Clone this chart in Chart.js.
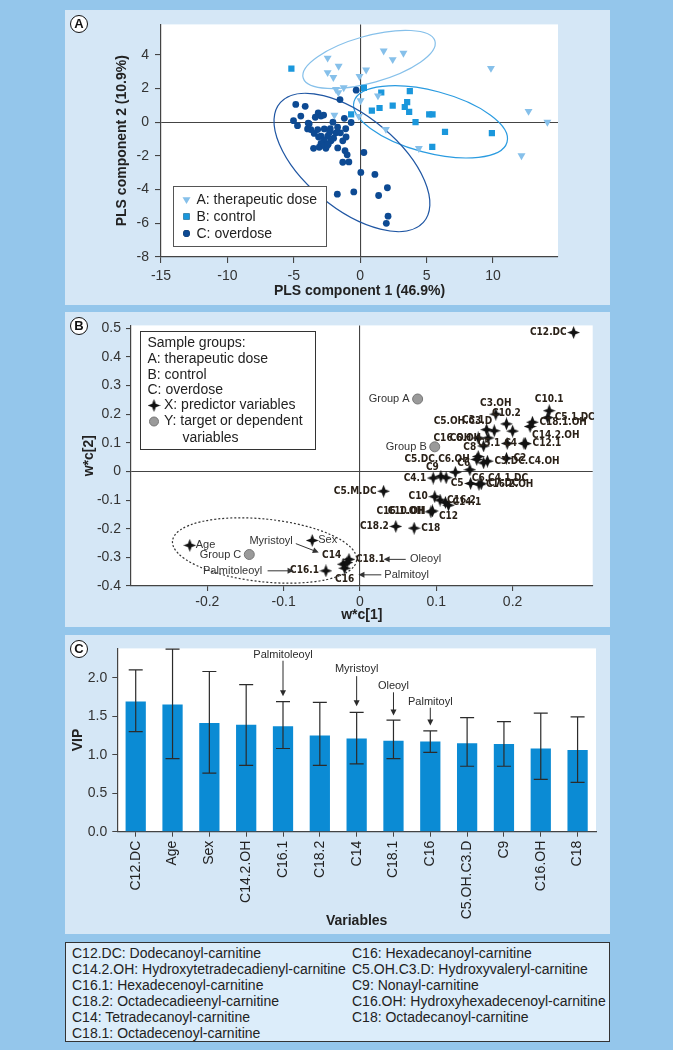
<!DOCTYPE html>
<html>
<head>
<meta charset="utf-8">
<title>PLS scores, loadings and VIP</title>
<script src="https://cdn.jsdelivr.net/npm/chart.js@4.4.1/dist/chart.umd.min.js"></script>
<style>
  html, body { margin: 0; padding: 0; }
  body { width: 673px; height: 1050px; background: #94c6eb; position: relative; overflow: hidden;
         font-family: 'Liberation Sans', Arial, Helvetica, sans-serif; }
  .panel { position: absolute; left: 65px; width: 545px; background: #d5e7f6; }
  .panel canvas { position: absolute; left: 0; top: 0; }
  .tag { position: absolute; left: 5px; top: 5px; width: 16px; height: 16px; border: 1.6px solid #111;
         border-radius: 50%; background: #fff; font: bold 13px 'Liberation Sans', Arial, sans-serif;
         text-align: center; line-height: 16px; color: #111; z-index: 2; }
  .key { position: absolute; left: 65px; top: 942px; width: 545px; height: 100px; box-sizing: border-box;
         border: 1.5px solid #333; background: #dcedfa; font-size: 14px; color: #222; }
  .key .col { position: absolute; top: 2px; line-height: 16px; white-space: nowrap; }
</style>
</head>
<body>
<div class="panel" style="top:10px;height:295px"><div class="tag">A</div><canvas id="scoresChart" width="545" height="295"></canvas></div>
<div class="panel" style="top:312px;height:315px"><div class="tag">B</div><canvas id="loadingsChart" width="545" height="315"></canvas></div>
<div class="panel" style="top:635px;height:299px"><div class="tag">C</div><canvas id="vipChart" width="545" height="299"></canvas></div>
<div class="key">
  <div class="col" style="left:6px">
    C12.DC: Dodecanoyl-carnitine<br>
    C14.2.OH: Hydroxytetradecadienyl-carnitine<br>
    C16.1: Hexadecenoyl-carnitine<br>
    C18.2: Octadecadieenyl-carnitine<br>
    C14: Tetradecanoyl-carnitine<br>
    C18.1: Octadecenoyl-carnitine
  </div>
  <div class="col" style="left:286px">
    C16: Hexadecanoyl-carnitine<br>
    C5.OH.C3.D: Hydroxyvaleryl-carnitine<br>
    C9: Nonayl-carnitine<br>
    C16.OH: Hydroxyhexadecenoyl-carnitine<br>
    C18: Octadecanoyl-carnitine
  </div>
</div>
<script>
// ---------- Panel A: PLS scores ----------
const groupNames = ['A: therapeutic dose', 'B: control', 'C: overdose'];
const doseX = [-2.45, -1.62, -2.45, -2.02, -0.05, 0.45, 1.77, 2.45, 3.26, 9.85, -1.82, -1.24, -1.64, 0.03, 1.34, -1.94, 1.94, 12.68, 14.1, 4.42, 12.15, -0.1];
const doseY = [3.81, 3.33, 2.95, 2.66, 2.72, 3.10, 4.23, 3.72, 4.10, 3.20, 1.95, 2.05, 1.76, 1.28, 1.57, 0.42, -0.42, 0.65, 0.0, -1.55, -1.98, 0.35];
const controlX = [-5.18, 0.28, 1.59, 3.74, 0.88, 1.46, 2.45, 3.54, 3.36, 3.69, -0.68, 4.17, 5.20, 5.45, 6.39, 9.92, 5.43];
const controlY = [3.18, 2.03, 1.76, 1.84, 0.69, 0.84, 0.98, 1.19, 0.90, 0.61, 0.46, 0.0, 0.46, 0.46, -0.57, -0.65, -1.46];
const overdoseX = [-4.85, -4.14, -1.52, -0.30, -4.47, -3.16, -2.95, -3.38, -2.75, -5.02, -4.72, -3.91, -2.05, -1.19, -0.68,
  -3.71, -3.20, -2.70, -2.25, -1.82, -1.49, -1.09, -3.46, -2.95, -2.45, -2.70, -2.20, -1.31, -2.95, -2.40, -3.51, -3.08,
  -1.69, -1.14, 0.28, -2.58, -0.98, -1.31, -0.85, 0.05, 1.11, 2.05, -1.72, -0.48, 1.39, 2.10, 1.97, -3.96, -2.70, -2.45,
  -3.84, -1.06, -3.13, -2.3, -2.0, -1.7];
const overdoseY = [1.05, 0.94, 1.34, 1.90, 0.36, 0.55, 0.36, 0.29, 0.42, 0.09, -0.21, -0.06, 0.0, 0.23, -0.02,
  -0.44, -0.44, -0.40, -0.39, -0.63, -0.63, -0.39, -0.67, -0.83, -0.83, -1.08, -1.11, -1.11, -1.26, -1.30, -1.55, -1.49,
  -1.53, -1.69, -1.80, -1.55, -1.94, -2.38, -2.36, -2.98, -3.10, -3.89, -4.27, -4.14, -4.35, -5.58, -6.00, -0.40, -1.40, -1.36,
  -0.10, -0.88, -0.88, -0.60, -0.95, -0.30];
// group confidence ellipses: centre and two half-axis vectors, in data units
const ellipseCx = [0.67, 5.30, -0.62];
const ellipseCy = [3.72, 0.02, -2.39];
const ellipseU = [[4.96, 1.10], [5.76, -1.21], [5.38, -3.56]];
const ellipseV = [[0.51, -1.33], [-0.64, -1.77], [-2.35, -2.04]];

// ---------- Panel B: loadings w*c ----------
const predictorNames = ['C12.DC', 'C10.1', 'C3.OH', 'C5.1.DC', 'C18.1.OH', 'C14.2.OH', 'C10.2', 'C3.1', 'C5.OH.C3.D', 'C14.OH',
  'C16.OH', 'C6.OH', 'C12.OH', 'C5.1', 'C4', 'C12.1', 'C8', 'C5.DC.C6.OH', 'C3.DC.C4.OH', 'C2', 'C14.1.OH',
  'C4.1', 'C9', 'C7', 'C6', 'C6.C4.1.DC', 'C5', 'C16.2.OH', 'C7.DC', 'C5.M.DC', 'C10', 'C16.2', 'C14.1', 'C12',
  'C16.1.OH', 'C10.OH', 'C18.2', 'C18', 'C18.1', 'C14', 'C16.1', 'C16', 'C18.OH'];
const predictorX = [0.280, 0.248, 0.178, 0.246, 0.226, 0.223, 0.192, 0.166, 0.176, 0.200,
  0.155, 0.168, 0.162, 0.193, 0.215, 0.217, 0.155, 0.153, 0.167, 0.192, 0.162,
  0.096, 0.106, 0.113, 0.125, 0.144, 0.145, 0.156, 0.159, 0.031, 0.098, 0.105, 0.112, 0.116,
  0.093, 0.095, 0.047, 0.071, -0.0144, -0.022, -0.0446, -0.020, -0.017];
const predictorY = [0.485, 0.212, 0.200, 0.188, 0.172, 0.157, 0.166, 0.146, 0.142, 0.141,
  0.117, 0.117, 0.089, 0.098, 0.098, 0.097, 0.052, 0.042, 0.036, 0.046, 0.030,
  -0.023, -0.017, -0.022, -0.003, 0.006, -0.042, -0.045, -0.043, -0.069, -0.088, -0.100, -0.108, -0.118,
  -0.141, -0.138, -0.192, -0.198, -0.307, -0.324, -0.347, -0.338, -0.318];
// where each label sits next to its star
const predictorLabelSide = ['l', 't', 't', 'r', 'r', 'br', 't', 'tl', 'tl', 'none',
  'l', 'l', 'none', 'l', 'l', 'r', 'tl', 'l', 'r', 'r', 'none',
  'l', 'tl', 'none', 'tr', 'br', 'l', 'r', 'r', 'l', 'l', 'r', 'r', 'b',
  'l', 'l', 'l', 'r', 'r', 'tl', 'l', 'b', 'none'];
const clinicalNames = ['Age', 'Sex'];
const clinicalX = [-0.223, -0.0625];
const clinicalY = [-0.258, -0.241];
const targetNames = ['Group A', 'Group B', 'Group C'];
const targetX = [0.0756, 0.098, -0.145];
const targetY = [0.253, 0.086, -0.290];
const fattyNotes = ['Oleoyl', 'Palmitoyl', 'Myristoyl', 'Palmitoleoyl'];
const fattyNoteX = [0.0655, 0.032, -0.088, -0.128];
const fattyNoteY = [-0.307, -0.361, -0.244, -0.347];
const fattyArrowFrom = [[0.060, -0.307], [0.028, -0.361], [-0.084, -0.252], [-0.121, -0.347]];
const fattyArrowTo = [[0.031, -0.307], [-0.002, -0.361], [-0.054, -0.283], [-0.087, -0.347]];

// ---------- Panel C: variable importance ----------
const vipNames = ['C12.DC', 'Age', 'Sex', 'C14.2.OH', 'C16.1', 'C18.2', 'C14', 'C18.1', 'C16', 'C5.OH.C3.D', 'C9', 'C16.OH', 'C18'];
const vipValues = [1.69, 1.65, 1.41, 1.39, 1.37, 1.25, 1.21, 1.18, 1.17, 1.15, 1.14, 1.08, 1.06];
const vipLow = [1.30, 0.95, 0.76, 0.86, 1.08, 0.86, 0.88, 0.95, 1.03, 0.85, 0.85, 0.68, 0.64];
const vipHigh = [2.10, 2.37, 2.08, 1.91, 1.69, 1.68, 1.55, 1.45, 1.31, 1.48, 1.43, 1.54, 1.49];
const vipNotes = ['Palmitoleoyl', 'Myristoyl', 'Oleoyl', 'Palmitoyl'];
const vipNoteBars = ['C16.1', 'C14', 'C18.1', 'C16'];
const vipNoteY = [2.29, 2.11, 1.89, 1.69];
const vipArrowFrom = [2.22, 2.02, 1.81, 1.61];
const vipArrowTo = [1.76, 1.63, 1.51, 1.38];

Chart.defaults.font.family = "'Liberation Sans', Arial, Helvetica, sans-serif";
Chart.defaults.font.size = 14;
Chart.defaults.color = '#333';
Chart.defaults.animation = false;
Chart.defaults.events = [];
Chart.defaults.plugins.legend.display = false;
Chart.defaults.plugins.tooltip.enabled = false;

const LABEL_FONT = "bold 10px 'Liberation Sans Narrow', 'DejaVu Sans Condensed', sans-serif";
const NOTE_FONT = "11px 'Liberation Sans', Arial, sans-serif";

function toPoints(xs, ys) {
  return xs.map((x, i) => ({ x, y: ys[i] }));
}

// four-pointed star used for the predictor variables
function makeStar(size, color) {
  const c = document.createElement('canvas');
  c.width = c.height = size;
  const g = c.getContext('2d');
  const h = size / 2, r = size * 0.14;
  g.fillStyle = color;
  g.beginPath();
  g.moveTo(h, 0); g.lineTo(h + r, h - r); g.lineTo(size, h); g.lineTo(h + r, h + r);
  g.lineTo(h, size); g.lineTo(h - r, h + r); g.lineTo(0, h); g.lineTo(h - r, h - r);
  g.closePath();
  g.fill();
  return c;
}
const starIcon = makeStar(13, '#111');

function drawArrow(ctx, x1, y1, x2, y2) {
  const a = Math.atan2(y2 - y1, x2 - x1), head = 6;
  ctx.beginPath();
  ctx.moveTo(x1, y1);
  ctx.lineTo(x2 - Math.cos(a) * head * 0.8, y2 - Math.sin(a) * head * 0.8);
  ctx.stroke();
  ctx.beginPath();
  ctx.moveTo(x2, y2);
  ctx.lineTo(x2 - head * Math.cos(a) + 3 * Math.sin(a), y2 - head * Math.sin(a) - 3 * Math.cos(a));
  ctx.lineTo(x2 - head * Math.cos(a) - 3 * Math.sin(a), y2 - head * Math.sin(a) + 3 * Math.cos(a));
  ctx.closePath();
  ctx.fill();
}

const plotBackground = {
  id: 'plotBackground',
  beforeDraw(chart) {
    const { ctx, chartArea: a } = chart;
    ctx.save();
    ctx.fillStyle = '#fff';
    ctx.fillRect(a.left, a.top, a.right - a.left, a.bottom - a.top);
    ctx.restore();
  }
};

// ellipse given by centre and two conjugate half-axes (data units)
function strokeEllipse(chart, cx, cy, u, v, color, dash) {
  const { ctx, scales: { x, y } } = chart;
  const px = x.getPixelForValue(cx), py = y.getPixelForValue(cy);
  const ux = x.getPixelForValue(cx + u[0]) - px, uy = y.getPixelForValue(cy + u[1]) - py;
  const vx = x.getPixelForValue(cx + v[0]) - px, vy = y.getPixelForValue(cy + v[1]) - py;
  ctx.save();
  ctx.beginPath();
  ctx.save();
  ctx.transform(ux, uy, vx, vy, px, py);
  ctx.arc(0, 0, 1, 0, Math.PI * 2);
  ctx.restore();
  ctx.strokeStyle = color;
  ctx.lineWidth = 1.2;
  ctx.setLineDash(dash || []);
  ctx.stroke();
  ctx.restore();
}

function linearAxis(min, max, step, o) {
  return {
    type: 'linear', min, max,
    border: { display: true, color: '#444', width: 1.2 },
    grid: {
      drawOnChartArea: true,
      color: c => (c.tick && Math.abs(c.tick.value) < 1e-9 ? '#444' : 'rgba(0,0,0,0)'),
      tickColor: '#444', tickLength: o.tickLength, lineWidth: 1.1
    },
    ticks: { stepSize: step, includeBounds: false, padding: o.pad, color: '#333' },
    title: { display: true, text: o.title, color: '#222', font: { size: 14, weight: 'bold' }, padding: o.titlePad },
    afterFit: o.fit
  };
}

// ---------- chart A ----------
const scoresExtras = {
  id: 'scoresExtras',
  beforeDatasetsDraw(chart) {
    const colors = ['#86c0ea', '#2a9be0', '#1f56a3'];
    ellipseCx.forEach((cx, i) => strokeEllipse(chart, cx, ellipseCy[i], ellipseU[i], ellipseV[i], colors[i]));
  },
  afterDatasetsDraw(chart) {
    const ctx = chart.ctx;
    ctx.save();
    ctx.fillStyle = '#fff';
    ctx.strokeStyle = '#555';
    ctx.lineWidth = 1;
    ctx.fillRect(108.5, 176.5, 153, 60);
    ctx.strokeRect(108.5, 176.5, 153, 60);
    ctx.font = "14px 'Liberation Sans', Arial, sans-serif";
    ctx.textBaseline = 'middle';
    chart.data.datasets.forEach((ds, i) => {
      const yy = 189.5 + i * 17;
      Chart.helpers.drawPoint(ctx, {
        pointStyle: ds.pointStyle, rotation: ds.rotation || 0, radius: ds.pointRadius, borderWidth: 0
      }, 121.5, yy);
      ctx.fillStyle = ds.backgroundColor;
      ctx.fill();
      ctx.fillStyle = '#222';
      ctx.fillText(groupNames[i], 131.5, yy + 0.5);
    });
    ctx.restore();
  }
};

new Chart(document.getElementById('scoresChart'), {
  type: 'scatter',
  data: {
    datasets: [
      { label: groupNames[0], data: toPoints(doseX, doseY), pointStyle: 'triangle', rotation: 180, pointRadius: 4.6,
        backgroundColor: '#86c0ea', borderWidth: 0 },
      { label: groupNames[1], data: toPoints(controlX, controlY), pointStyle: 'rect', pointRadius: 4.4,
        backgroundColor: '#1a97dc', borderWidth: 0 },
      { label: groupNames[2], data: toPoints(overdoseX, overdoseY), pointStyle: 'circle', pointRadius: 3.4,
        backgroundColor: '#0d4a93', borderWidth: 0 }
    ]
  },
  options: {
    responsive: false,
    layout: { padding: { top: 7, right: 52, left: 0, bottom: 0 } },
    scales: {
      x: linearAxis(-15, 14.9, 5, { tickLength: 6, pad: 5, title: 'PLS component 1 (46.9%)',
        titlePad: { top: 0, bottom: 5 }, fit: s => { s.height = 48; } }),
      y: linearAxis(-8, 5.8, 2, { tickLength: 6, pad: 6, title: 'PLS component 2 (10.9%)',
        titlePad: { top: 49, bottom: 0 }, fit: s => { s.width = 96; } })
    }
  },
  plugins: [plotBackground, scoresExtras]
});

// ---------- chart B ----------
function drawSideLabel(ctx, text, x, y, side, gap) {
  const map = {
    l: ['right', 'middle', -gap, 0], r: ['left', 'middle', gap, 0],
    t: ['center', 'bottom', 0, -gap + 1], b: ['center', 'top', 0, gap - 1],
    tl: ['right', 'bottom', -2, -4], tr: ['left', 'bottom', 2, -4],
    bl: ['right', 'top', -2, 4], br: ['left', 'top', 2, 4]
  };
  const m = map[side];
  if (!m) return;
  ctx.textAlign = m[0];
  ctx.textBaseline = m[1];
  ctx.fillText(text, x + m[2], y + m[3]);
}

const loadingsExtras = {
  id: 'loadingsExtras',
  beforeDatasetsDraw(chart) {
    strokeEllipse(chart, -0.125, -0.276, [0.1206, -0.034], [-0.0045, -0.109], '#333', [2, 2]);
  },
  afterDatasetsDraw(chart) {
    const { ctx, scales: { x, y } } = chart;
    ctx.save();
    // predictor labels
    ctx.fillStyle = '#2a2118';
    ctx.font = LABEL_FONT;
    chart.getDatasetMeta(0).data.forEach((pt, i) => drawSideLabel(ctx, predictorNames[i], pt.x, pt.y, predictorLabelSide[i], 7));
    ctx.fillStyle = '#333';
    ctx.font = NOTE_FONT;
    chart.getDatasetMeta(1).data.forEach((pt, i) => drawSideLabel(ctx, clinicalNames[i], pt.x, pt.y, 'r', 6));
    chart.getDatasetMeta(2).data.forEach((pt, i) => drawSideLabel(ctx, targetNames[i], pt.x, pt.y, 'l', 8));
    // fatty-acid annotations with arrows
    ctx.strokeStyle = '#333';
    ctx.fillStyle = '#333';
    ctx.lineWidth = 1;
    fattyNotes.forEach((t, i) => {
      ctx.textBaseline = 'middle';
      ctx.textAlign = i < 2 ? 'left' : 'right';
      ctx.fillText(t, x.getPixelForValue(fattyNoteX[i]), y.getPixelForValue(fattyNoteY[i]));
      drawArrow(ctx, x.getPixelForValue(fattyArrowFrom[i][0]), y.getPixelForValue(fattyArrowFrom[i][1]),
        x.getPixelForValue(fattyArrowTo[i][0]), y.getPixelForValue(fattyArrowTo[i][1]));
    });
    // legend box
    ctx.fillStyle = '#fff';
    ctx.strokeStyle = '#333';
    ctx.fillRect(75.5, 19.5, 175, 118);
    ctx.strokeRect(75.5, 19.5, 175, 118);
    ctx.fillStyle = '#222';
    ctx.font = "14px 'Liberation Sans', Arial, sans-serif";
    ctx.textAlign = 'left';
    ctx.textBaseline = 'middle';
    const lines = ['Sample groups:', 'A: therapeutic dose', 'B: control', 'C: overdose'];
    lines.forEach((t, i) => ctx.fillText(t, 82.5, 31.5 + i * 15.6));
    ctx.drawImage(starIcon, 89 - 6.5, 93.5 - 6.5);
    ctx.fillText('X: predictor variables', 99, 93.5);
    ctx.beginPath();
    ctx.arc(89, 109.5, 4.5, 0, Math.PI * 2);
    ctx.fillStyle = '#9a9a9a';
    ctx.fill();
    ctx.strokeStyle = '#777';
    ctx.stroke();
    ctx.fillStyle = '#222';
    ctx.fillText('Y: target or dependent', 99, 109.5);
    ctx.fillText('variables', 117.5, 126);
    ctx.restore();
  }
};

new Chart(document.getElementById('loadingsChart'), {
  type: 'scatter',
  data: {
    datasets: [
      { label: 'X: predictor variables', data: toPoints(predictorX, predictorY), pointStyle: starIcon },
      { label: 'X: clinical', data: toPoints(clinicalX, clinicalY), pointStyle: starIcon },
      { label: 'Y: target or dependent variables', data: toPoints(targetX, targetY), pointStyle: 'circle',
        pointRadius: 5, backgroundColor: '#9a9a9a', borderColor: '#777', borderWidth: 1 }
    ]
  },
  options: {
    responsive: false,
    layout: { padding: { top: 9.7, right: 17.3, left: 0, bottom: 0 } },
    scales: {
      x: Object.assign(linearAxis(-0.3, 0.305, 0.1, { tickLength: 5, pad: 3, title: 'w*c[1]',
        titlePad: { top: 0, bottom: 3.6 }, fit: s => { s.height = 41; } }),
        { afterBuildTicks: s => { s.ticks = s.ticks.filter(t => t.value < 0.25); } }),
      y: linearAxis(-0.4, 0.51, 0.1, { tickLength: 5, pad: 5, title: 'w*c[2]',
        titlePad: { top: 15.6, bottom: 0 }, fit: s => { s.width = 66; } })
    }
  },
  plugins: [plotBackground, loadingsExtras]
});

// ---------- chart C ----------
const vipExtras = {
  id: 'vipExtras',
  afterDatasetsDraw(chart) {
    const { ctx, scales: { x, y } } = chart;
    ctx.save();
    ctx.strokeStyle = '#2b2b2b';
    ctx.fillStyle = '#2b2b2b';
    ctx.lineWidth = 1.2;
    vipNames.forEach((name, i) => {
      const px = x.getPixelForValue(i);
      const top = y.getPixelForValue(vipHigh[i]), bot = y.getPixelForValue(vipLow[i]);
      ctx.beginPath();
      ctx.moveTo(px, top); ctx.lineTo(px, bot);
      ctx.moveTo(px - 7, top); ctx.lineTo(px + 7, top);
      ctx.moveTo(px - 7, bot); ctx.lineTo(px + 7, bot);
      ctx.stroke();
    });
    ctx.lineWidth = 1;
    ctx.font = NOTE_FONT;
    ctx.textAlign = 'center';
    ctx.textBaseline = 'middle';
    vipNotes.forEach((t, i) => {
      const px = x.getPixelForValue(vipNames.indexOf(vipNoteBars[i]));
      ctx.fillText(t, px, y.getPixelForValue(vipNoteY[i]));
      drawArrow(ctx, px, y.getPixelForValue(vipArrowFrom[i]), px, y.getPixelForValue(vipArrowTo[i]));
    });
    ctx.restore();
  }
};

new Chart(document.getElementById('vipChart'), {
  type: 'bar',
  data: {
    labels: vipNames,
    datasets: [{ label: 'VIP', data: vipValues, backgroundColor: '#0b8bd4', barPercentage: 0.55, categoryPercentage: 1 }]
  },
  options: {
    responsive: false,
    layout: { padding: { top: 9, right: 14, left: 0, bottom: 0 } },
    scales: {
      x: {
        border: { display: true, color: '#444', width: 1.2 },
        grid: { drawOnChartArea: false, offset: false, tickColor: '#444', tickLength: 5 },
        ticks: { autoSkip: false, minRotation: 90, maxRotation: 90, padding: 4, color: '#222' },
        title: { display: true, text: 'Variables', color: '#222', font: { size: 14, weight: 'bold' }, padding: { top: 0, bottom: 4.6 } },
        afterFit: s => { s.height = 102.3; }
      },
      y: {
        min: 0, max: 2.38,
        border: { display: true, color: '#444', width: 1.2 },
        grid: { drawOnChartArea: false, tickColor: '#444', tickLength: 5 },
        ticks: { stepSize: 0.5, includeBounds: false, padding: 5, color: '#333', callback: v => v.toFixed(1) },
        title: { display: true, text: 'VIP', color: '#222', font: { size: 14, weight: 'bold' }, padding: { top: 4.9, bottom: 0 } },
        afterFit: s => { s.width = 52.3; }
      }
    }
  },
  plugins: [plotBackground, vipExtras]
});
</script>
</body>
</html>
